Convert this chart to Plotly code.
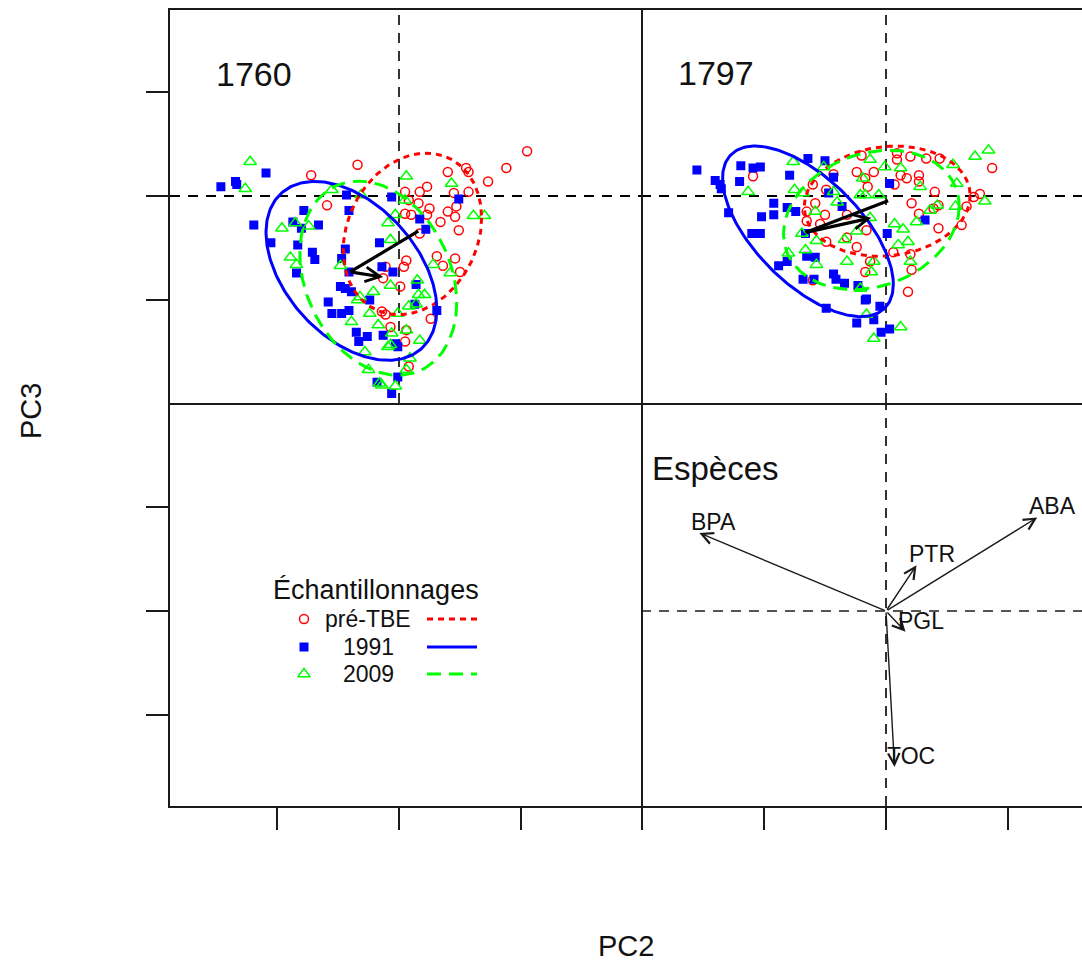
import numpy as np
import plotly.graph_objects as go

# ---------------- data ----------------
groups = ["pré-TBE", "1991", "2009"]

# stand 1760 : PCA scores (PC2, PC3)
pre_1760_x = [-0.34, 1.05, 0.88, 0.73, 0.57, 0.40, 0.55, 0.45, 0.57, 0.23, 0.17, 0.05, 0.08, 0.16, 0.25,
              0.47, 0.40, 0.46, 0.34, 0.05, 0.10, 0.49, 0.31, 0.46, 0.50, 0.06, 0.04, -0.11, -0.13, 0.01,
              -0.14, -0.11, -0.07, 0.26, 0.05, 0.06, 0.08, -0.59, -0.72, 0.36, 0.23, 0.17]
pre_1760_y = [0.30, 0.43, 0.27, 0.14, 0.23, 0.23, 0.27, 0.03, 0.04, 0.09, 0.04, 0.04, -0.04, -0.07, -0.12,
              -0.10, -0.15, -0.20, -0.25, -0.17, -0.18, -0.33, -0.58, -0.60, -0.73, -0.62, -0.68, -0.68, -0.79, -0.87,
              -1.11, -1.14, -1.26, -1.18, -1.40, -1.29, -1.64, -0.09, 0.20, -0.67, -0.18, -0.36]
y1991_1760_x = [-1.46, -1.34, -1.33, -1.09, -1.19, -1.05, -0.78, -0.87, -0.80, -0.66, -0.83, -0.71, -0.69, -0.84,
                -0.41, -0.44, -0.47, -0.41, -0.48, -0.44, -0.39, -0.58, -0.55, -0.47, -0.41, -0.24, -0.35, -0.26,
                -0.33, -0.05, -0.16, -0.06, -0.43, -0.18, -0.06, -0.01, -0.01, 0.17, 0.22, -0.14, 0.14, 0.13,
                0.31, 0.49, -0.13, -0.03]
y1991_1760_y = [0.09, 0.14, 0.11, 0.22, -0.28, -0.45, -0.14, -0.25, -0.31, -0.28, -0.47, -0.54, -0.61, -0.74,
                -0.14, -0.51, -0.60, -0.73, -0.87, -0.89, -0.92, -1.02, -1.13, -1.13, -1.10, -1.00, -1.31, -1.35,
                -1.40, -0.73, -0.45, -0.01, 0.01, -1.79, -1.90, -1.74, -1.45, -0.22, -0.32, -0.68, -0.85, -1.04,
                -1.10, -0.03, -1.34, -1.42]
y2009_1760_x = [-1.22, -1.26, -0.55, -0.31, -0.96, -0.85, -0.74, -0.89, -0.84, -0.48, -0.34, -0.39, -0.24, -0.17,
                -0.09, -0.07, -0.07, -0.06, -0.09, -0.28, -0.25, -0.14, -0.03, -0.01, 0.06, 0.43, 0.61, 0.70,
                -0.03, 0.05, 0.28, 0.42, 0.15, 0.16, 0.21, 0.08, -0.07, 0.17, 0.06, 0.09, 0.06, -0.16, -0.32,
                -0.21, 0.14]
y2009_1760_y = [0.33, 0.07, 0.06, 0.01, -0.31, -0.26, -0.29, -0.59, -0.66, -0.67, -1.00, -1.21, -1.13, -1.24,
                -0.26, -0.42, -0.86, -1.32, -1.45, -1.50, -1.67, -1.82, -1.83, -1.13, 0.19, 0.12, -0.19, -0.19,
                -0.18, -0.04, -0.66, -0.74, -0.81, -0.95, -0.95, -1.06, -1.43, -1.39, -1.29, -1.56, -1.67, -1.80,
                -0.97, -0.92, -1.04]

# stand 1797
pre_1797_x = [-1.09, -0.20, -0.24, -0.43, -0.60, -0.49, -0.58, -0.65, -0.50, -0.65, -0.54, -0.32, -0.49, -0.32,
              -0.24, -0.13, -0.17, -0.60, -0.17, 0.09, 0.09, 0.20, 0.33, 0.44, 0.87, -0.10, 0.12, 0.17, 0.27,
              0.27, -0.15, 0.07, 0.40, 0.21, 0.27, 0.39, 0.43, 0.66, 0.77, 0.72, 0.62, 0.43, -0.16, 0.06, 0.20,
              0.21, 0.18]
pre_1797_y = [0.19, 0.39, 0.23, 0.21, 0.11, 0.06, -0.07, -0.15, -0.18, -0.24, -0.27, -0.18, -0.44, -0.40,
              -0.49, -0.63, -0.73, -0.81, 0.17, 0.41, 0.35, 0.38, 0.36, 0.36, 0.27, 0.23, 0.20, 0.17, 0.20,
              0.14, 0.09, 0.11, 0.04, -0.07, -0.17, -0.12, -0.09, -0.10, 0.02, -0.01, -0.28, -0.31, -0.33,
              -0.54, -0.56, -0.71, -0.92]
y1991_1797_x = [-1.55, -1.40, -1.36, -1.35, -1.29, -1.19, -1.20, -1.09, -1.03, -0.79, -0.64, -0.50, -0.92, -0.81,
                -0.74, -1.02, -0.92, -1.10, -1.03, -0.66, -0.88, -0.81, -0.65, -0.58, -0.68, -0.59, -0.43, -0.41,
                -0.34, -0.49, -0.24, -0.17, -0.36, -0.47, -0.43, 0.03, 0.32, 0.01, -0.23, -0.16, -0.05, -0.10,
                -0.04, 0.03]
y1991_1797_y = [0.25, 0.15, 0.11, 0.07, -0.16, 0.29, 0.14, 0.27, 0.28, 0.20, 0.36, 0.34, -0.07, -0.11,
                -0.15, -0.20, -0.18, -0.36, -0.36, -0.36, -0.67, -0.63, -0.58, -0.59, -0.80, -0.80, -0.75, -0.80,
                -0.84, -1.08, -1.22, -1.00, -0.10, 0.03, 0.18, 0.12, -0.23, -0.36, -0.86, -0.99, -1.06, -1.19,
                -1.31, -1.28]
y2009_1797_x = [-1.13, -0.76, -0.51, -0.75, -0.68, -0.43, -0.40, -0.58, -0.19, -0.21, -0.17, -0.69, -0.57, -0.66,
                -0.80, -0.57, -0.34, -0.32, -0.24, -0.21, -0.16, -0.13, -0.01, 0.12, -0.06, 0.28, 0.55, 0.58,
                0.73, 0.84, 0.81, 0.42, 0.36, 0.57, 0.07, 0.14, 0.25, -0.13, 0.10, 0.18, -0.10, -0.12, 0.20,
                0.12, -0.10]
y2009_1797_y = [0.04, 0.33, 0.28, 0.06, 0.03, 0.04, -0.06, -0.15, 0.17, 0.01, 0.01, -0.36, -0.43, -0.52,
                -0.55, -0.66, -0.42, -0.63, -0.34, -0.89, -1.14, 0.35, 0.28, 0.27, 0.01, 0.09, 0.30, 0.12,
                0.38, 0.44, -0.05, -0.09, -0.14, -0.10, -0.27, -0.32, -0.25, -0.21, -0.47, -0.44, -0.63, -0.73,
                -0.63, -1.26, -1.37]

# ellipse parameters per group (order: pré-TBE, 1991, 2009): centre, sd, correlation
ell_1760_cx = [0.11, -0.39, -0.17]
ell_1760_cy = [-0.365, -0.72, -0.79]
ell_1760_sx = [0.567, 0.70, 0.643]
ell_1760_sy = [0.777, 0.86, 0.933]
ell_1760_rho = [0.20, -0.43, -0.25]

ell_1797_cx = [0.01, -0.64, -0.12]
ell_1797_cy = [-0.05, -0.34, -0.23]
ell_1797_sx = [0.68, 0.70, 0.72]
ell_1797_sy = [0.53, 0.82, 0.67]
ell_1797_rho = [0.10, -0.62, 0.20]

# group centroids (trajectory pré-TBE -> 1991 -> 2009)
cent_1760_x = [0.17, -0.40, -0.13]
cent_1760_y = [-0.33, -0.73, -0.78]
cent_1797_x = [0.03, -0.66, -0.12]
cent_1797_y = [-0.04, -0.35, -0.21]

# species loadings
species = ["BPA", "ABA", "PTR", "PGL", "TOC"]
species_x = [-1.53, 1.24, 0.25, 0.16, 0.07]
species_y = [0.75, 0.90, 0.44, -0.20, -1.50]

# ---------------- layout constants (pixels) ----------------
W, H = 1082, 969
PL, PT, PR, PB = 170, 10, 1082, 806          # plot area
COL_SPLIT, ROW_SPLIT = 641, 403
X0_LEFT, X0_RIGHT = 399, 886                 # pixel of data 0
Y0_TOP, Y0_BOT = 196, 611
PX_X, PX_Y = 122.0, 104.0                    # pixels per unit

def px2paper_x(px):
    return (px - PL) / (PR - PL)

def px2paper_y(py):
    return (PB - py) / (PB - PT)

dx = px2paper_x(COL_SPLIT)
dy = px2paper_y(ROW_SPLIT)
rng_left = [(PL - X0_LEFT) / PX_X, (COL_SPLIT - X0_LEFT) / PX_X]
rng_right = [(COL_SPLIT - X0_RIGHT) / PX_X, (PR - X0_RIGHT) / PX_X]
rng_top = [(Y0_TOP - ROW_SPLIT) / PX_Y, (Y0_TOP - PT) / PX_Y]
rng_bot = [(Y0_BOT - PB) / PX_Y, (Y0_BOT - ROW_SPLIT) / PX_Y]

FONT = "Liberation Sans, Arial, Helvetica, sans-serif"
RED, BLUE, GREEN = "#FF0000", "#0000FF", "#00FF00"
style = {
    "pré-TBE": dict(color=RED, symbol="circle-open", size=9, dash="6px,5px"),
    "1991": dict(color=BLUE, symbol="square", size=7.5, dash="solid"),
    "2009": dict(color=GREEN, symbol="triangle-up-open", size=11, dash="14px,8px"),
}

def ellipse(cx, cy, sx, sy, rho, n=240):
    t = np.linspace(0, 2 * np.pi, n)
    return cx + sx * np.cos(t), cy + sy * np.cos(t + np.arccos(rho))

fig = go.Figure()

panels = [
    ("x", "y", [(pre_1760_x, pre_1760_y), (y1991_1760_x, y1991_1760_y), (y2009_1760_x, y2009_1760_y)],
     (ell_1760_cx, ell_1760_cy, ell_1760_sx, ell_1760_sy, ell_1760_rho), (cent_1760_x, cent_1760_y)),
    ("x2", "y2", [(pre_1797_x, pre_1797_y), (y1991_1797_x, y1991_1797_y), (y2009_1797_x, y2009_1797_y)],
     (ell_1797_cx, ell_1797_cy, ell_1797_sx, ell_1797_sy, ell_1797_rho), (cent_1797_x, cent_1797_y)),
]

annotations = []
for xa, ya, pts, ell, cent in panels:
    for g, (px, py) in zip(groups, pts):
        s = style[g]
        fig.add_trace(go.Scatter(
            x=px, y=py, mode="markers", xaxis=xa, yaxis=ya, showlegend=False,
            marker=dict(symbol=s["symbol"], size=s["size"], color=s["color"],
                        line=dict(color=s["color"], width=1.5))))
    cxs, cys, sxs, sys_, rhos = ell
    for i, g in enumerate(groups):
        ex, ey = ellipse(cxs[i], cys[i], sxs[i], sys_[i], rhos[i])
        s = style[g]
        fig.add_trace(go.Scatter(
            x=ex, y=ey, mode="lines", xaxis=xa, yaxis=ya, showlegend=False,
            line=dict(color=s["color"], width=3, dash=s["dash"])))
    ctx, cty = cent
    # segment pré-TBE -> 1991 (plain), 1991 -> 2009 (with head)
    for a, b, head in [(0, 1, 0), (1, 2, 5)]:
        annotations.append(dict(
            x=ctx[b], y=cty[b], ax=ctx[a], ay=cty[a], xref=xa, yref=ya, axref=xa, ayref=ya,
            text="", showarrow=True, arrowhead=head, arrowsize=0.9, arrowwidth=3.2, arrowcolor="black"))

# species vectors
for name, sx_, sy_ in zip(species, species_x, species_y):
    annotations.append(dict(
        x=sx_, y=sy_, ax=0, ay=0, xref="x4", yref="y4", axref="x4", ayref="y4",
        text="", showarrow=True, arrowhead=5, arrowsize=1.6, arrowwidth=1.4, arrowcolor="#1a1a1a"))
    annotations.append(dict(
        x=sx_, y=sy_, xref="x4", yref="y4", text=name, showarrow=False,
        xanchor="left", yanchor="middle", xshift=-9, yshift=11, borderpad=0,
        font=dict(family=FONT, size=23, color="#111")))

# reference dashed lines
shapes = []
for xa, ya, hcol in [("x", "y", "black"), ("x2", "y2", "black"), ("x4", "y4", "#555555")]:
    shapes.append(dict(type="line", xref=xa, yref=ya + " domain", x0=0, x1=0, y0=0, y1=1,
                       line=dict(color="black", width=1.6, dash="10px,8px"), layer="below"))
    shapes.append(dict(type="line", xref=xa + " domain", yref=ya, x0=0, x1=1, y0=0, y1=0,
                       line=dict(color=hcol, width=1.8, dash="10px,8px"), layer="below"))

# panel titles
annotations += [
    dict(text="1760", x=px2paper_x(214), y=px2paper_y(74), xref="paper", yref="paper", xanchor="left",
         yanchor="middle", showarrow=False, font=dict(family=FONT, size=34, color="#111")),
    dict(text="1797", x=px2paper_x(676), y=px2paper_y(73), xref="paper", yref="paper", xanchor="left",
         yanchor="middle", showarrow=False, font=dict(family=FONT, size=34, color="#111")),
    dict(text="Espèces", x=px2paper_x(650), y=px2paper_y(468), xref="paper", yref="paper", xanchor="left",
         yanchor="middle", showarrow=False, font=dict(family=FONT, size=33, color="#111")),
    dict(text="PC3", x=px2paper_x(31), y=px2paper_y(411), xref="paper", yref="paper", textangle=-90,
         xanchor="center", yanchor="middle", showarrow=False, font=dict(family=FONT, size=29, color="#111")),
    dict(text="PC2", x=px2paper_x(626), y=px2paper_y(946), xref="paper", yref="paper",
         xanchor="center", yanchor="middle", showarrow=False, font=dict(family=FONT, size=29, color="#111")),
]

# legend (drawn inside the bottom-left panel)
LEG_TITLE = (376, 590)
LEG_SYM_X, LEG_LAB_X, LEG_LINE_X0, LEG_LINE_X1 = 304, 368, 427, 477
LEG_ROWS_Y = [619, 647, 674]
annotations.append(dict(text="Échantillonnages", x=px2paper_x(LEG_TITLE[0]), y=px2paper_y(LEG_TITLE[1]),
                        xref="paper", yref="paper", xanchor="center", yanchor="middle", showarrow=False,
                        font=dict(family=FONT, size=27, color="#111")))
for g, ry in zip(groups, LEG_ROWS_Y):
    s = style[g]
    fig.add_trace(go.Scatter(
        x=[(LEG_SYM_X - X0_LEFT) / PX_X], y=[(Y0_BOT - ry) / PX_Y], mode="markers",
        xaxis="x3", yaxis="y3", showlegend=False,
        marker=dict(symbol=s["symbol"], size=s["size"], color=s["color"],
                    line=dict(color=s["color"], width=1.5))))
    annotations.append(dict(text=g, x=px2paper_x(LEG_LAB_X), y=px2paper_y(ry), xref="paper", yref="paper",
                            xanchor="center", yanchor="middle", showarrow=False,
                            font=dict(family=FONT, size=23, color="#111")))
    shapes.append(dict(type="line", xref="paper", yref="paper",
                       x0=px2paper_x(LEG_LINE_X0), x1=px2paper_x(LEG_LINE_X1),
                       y0=px2paper_y(ry), y1=px2paper_y(ry),
                       line=dict(color=s["color"], width=3, dash=s["dash"])))

LINE_COL = "#1a1a1a"
base = dict(showgrid=False, zeroline=False, linecolor=LINE_COL, linewidth=2,
            showticklabels=False, fixedrange=True)
tick = dict(ticks="outside", ticklen=22, tickwidth=1.8, tickcolor=LINE_COL)

fig.update_layout(
    width=W, height=H,
    margin=dict(l=PL, r=W - PR, t=PT, b=H - PB),
    paper_bgcolor="white", plot_bgcolor="white",
    showlegend=False,
    # top row: x lines at top (mirror) and at the row split
    xaxis=dict(**base, showline=True, domain=[0, dx], range=rng_left, anchor="y", mirror=True),
    xaxis2=dict(**base, showline=True, domain=[dx, 1], range=rng_right, anchor="y2", mirror=True),
    # left column: y lines at the outer left and at the column split
    yaxis=dict(**base, **tick, showline=True, domain=[dy, 1], range=rng_top, anchor="x", mirror=True,
               tickvals=[-1, 0, 1]),
    yaxis3=dict(**base, **tick, showline=True, domain=[0, dy], range=rng_bot, anchor="x3", mirror=True,
                tickvals=[-1, 0, 1]),
    # right column: no own vertical lines (split drawn by left column, right edge cut)
    yaxis2=dict(**base, showline=False, domain=[dy, 1], range=rng_top, anchor="x2"),
    yaxis4=dict(**base, showline=False, domain=[0, dy], range=rng_bot, anchor="x4"),
    # bottom row: only the bottom line
    xaxis3=dict(**base, **tick, showline=True, domain=[0, dx], range=rng_left, anchor="y3", mirror=False,
                tickvals=[-1, 0, 1]),
    xaxis4=dict(**base, **tick, showline=True, domain=[dx, 1], range=rng_right, anchor="y4", mirror=False,
                tickvals=[-2, -1, 0, 1]),
    shapes=shapes,
    annotations=annotations,
)

fig.write_html("out.html")
